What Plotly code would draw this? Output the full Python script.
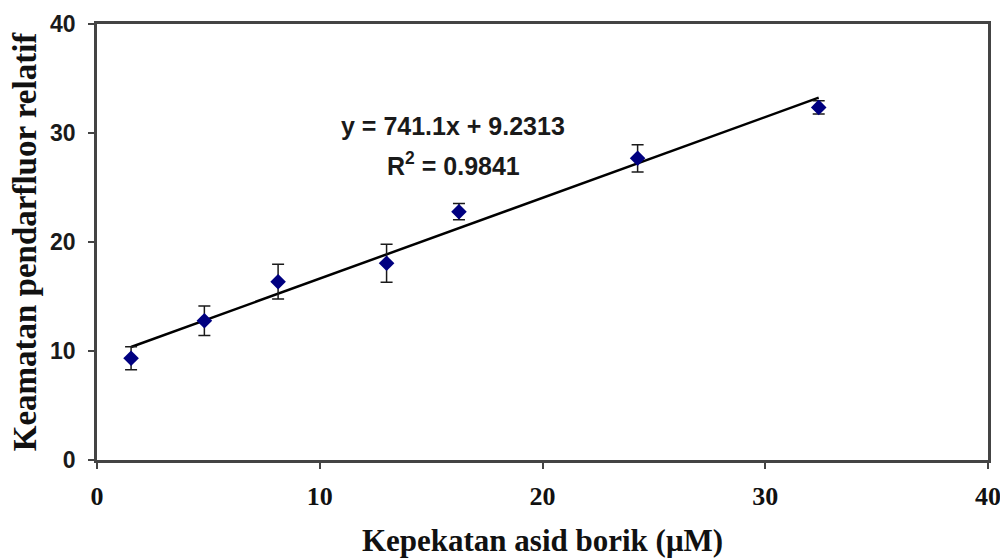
import plotly.graph_objects as go

# Data
conc = [1.53, 4.82, 8.13, 13.0, 16.25, 24.27, 32.4]          # μM
intensity = [9.33, 12.78, 16.36, 18.05, 22.78, 27.68, 32.35]
err = [1.05, 1.35, 1.6, 1.75, 0.75, 1.25, 0.6]

slope = 0.7411      # per μM (741.1 per mM)
intercept = 9.2313
eq_text = "y = 741.1x + 9.2313"
r2_text = "R<sup>2</sup> = 0.9841"

x_ticks = [0, 10, 20, 30, 40]
y_ticks = [0, 10, 20, 30, 40]

fit_x = [conc[0], conc[-1]]
fit_y = [slope * v + intercept for v in fit_x]

fig = go.Figure()
fig.add_trace(go.Scatter(
    x=fit_x, y=fit_y, mode="lines",
    line=dict(color="black", width=2.5), showlegend=False, hoverinfo="skip"))
fig.add_trace(go.Scatter(
    x=conc, y=intensity, mode="markers",
    marker=dict(symbol="diamond", size=12, color="#000080"),
    error_y=dict(type="data", array=err, color="#1a1a1a", thickness=1.5, width=6),
    showlegend=False))

ann_font = dict(family="Liberation Sans, Arial", size=25, color="#1a1a1a", weight="bold")
fig.add_annotation(x=16.0, y=30.6, text=eq_text, showarrow=False, font=ann_font)
fig.add_annotation(x=16.0, y=27.2, text=r2_text, showarrow=False, font=ann_font)

axis_line = dict(showline=True, linecolor="#444444", linewidth=2.5, mirror=True,
                 showgrid=False, zeroline=False, ticks="outside", tickcolor="#444444",
                 tickwidth=2, ticklabeloverflow="allow")

fig.update_xaxes(
    range=[0, 40], tickvals=x_ticks, ticklen=6, ticklabelstandoff=5,
    tickfont=dict(family="Liberation Serif, Times New Roman", size=26, color="#111111", weight="bold"),
    title=dict(text="Kepekatan asid borik (μM)", standoff=20,
               font=dict(family="Liberation Serif, Times New Roman", size=31, color="#111111", weight="bold")),
    **axis_line)
fig.update_yaxes(
    range=[0, 40], tickvals=y_ticks, ticklen=6, ticklabelstandoff=8,
    tickfont=dict(family="Liberation Sans, Arial", size=23, color="#1a1a1a", weight="bold"),
    title=dict(text="Keamatan pendarfluor relatif", standoff=4,
               font=dict(family="Liberation Serif, Times New Roman", size=33, color="#111111", weight="bold")),
    **axis_line)

fig.update_layout(
    width=1000, height=560,
    margin=dict(l=97, r=12, t=24, b=100, autoexpand=False),
    paper_bgcolor="white", plot_bgcolor="white",
    showlegend=False)

fig.write_html("out.html")
